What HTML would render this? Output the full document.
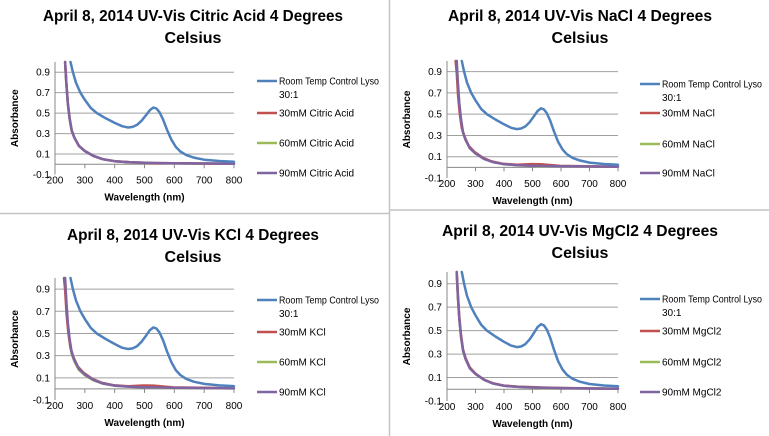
<!DOCTYPE html>
<html><head><meta charset="utf-8"><style>
html,body{margin:0;padding:0;background:#fff;width:769px;height:436px;overflow:hidden}
svg{display:block;font-family:"Liberation Sans",sans-serif}
</style></head><body>
<svg id="s" width="769" height="436" viewBox="0 0 769 436">
<rect width="769" height="436" fill="#fff"/>
<line x1="389.5" y1="0" x2="389.5" y2="436" stroke="#c4c4c4" stroke-width="1.5"/>
<line x1="0" y1="213.5" x2="389" y2="213.5" stroke="#c4c4c4" stroke-width="1.5"/>
<line x1="390" y1="210" x2="769" y2="210" stroke="#c4c4c4" stroke-width="1.5"/>
</svg>
<script>
var s=document.getElementById('s');var NS='http://www.w3.org/2000/svg';
function el(n,a,t){var e=document.createElementNS(NS,n);for(var k in a)e.setAttribute(k,a[k]);if(t!==undefined)e.textContent=t;s.appendChild(e);return e;}
var blue=[[252,1.0],[260,0.9],[270,0.8],[285,0.7],[300,0.63],[320,0.55],[340,0.5],[370,0.45],[400,0.405],[425,0.372],[445,0.36],[460,0.365],[475,0.385],[490,0.425],[505,0.48],[518,0.53],[530,0.555],[540,0.545],[550,0.51],[562,0.44],[575,0.34],[590,0.24],[605,0.17],[620,0.125],[640,0.09],[665,0.065],[700,0.045],[750,0.032],[800,0.025]];
var purp=[[234,1.0],[238,0.8],[243,0.6],[249,0.45],[256,0.33],[265,0.26],[280,0.18],[300,0.13],[330,0.08],[360,0.05],[400,0.03],[450,0.02],[500,0.015],[600,0.01],[800,0.005]];
function redOf(b,shift,bump){return purp.map(function(p){var w=p[0]-shift;var v=p[1];if(v<0.9)v=v*b+bump*Math.exp(-Math.pow((p[0]-530)/50,2));return[w,v];}).concat([[530,0.01+bump]]).sort(function(a,b){return a[0]-b[0]});}
function panel(P){
 var X=function(w){return P.x0+(w-200)/600*(P.x1-P.x0)};
 var Y=function(v){return P.yb+(v+0.1)/1.1*(P.yt-P.yb)};
 el('text',{x:P.cx,y:P.t1,'text-anchor':'middle','font-size':'16','font-weight':'bold',textLength:P.tl,lengthAdjust:'spacingAndGlyphs'},P.title);
 el('text',{x:P.cx,y:P.t2,'text-anchor':'middle','font-size':'16','font-weight':'bold'},'Celsius');
 [0.9,0.7,0.5,0.3,0.1,-0.1].forEach(function(v){
  if(v>-0.1)el('line',{x1:P.x0,x2:P.x1,y1:Y(v),y2:Y(v),stroke:'#a0a0a0','stroke-width':1});
  el('text',{x:P.x0-5,y:Y(v)+3.5,'text-anchor':'end','font-size':'10'},v==-0.1?'-0.1':String(v));
 });
 el('line',{x1:P.x0,x2:P.x1,y1:Y(0),y2:Y(0),stroke:'#888','stroke-width':1});
 el('line',{x1:P.x0,x2:P.x0,y1:Y(1.0),y2:Y(-0.1),stroke:'#888','stroke-width':1});
 for(var w=200;w<=800;w+=100){el('line',{x1:X(w),x2:X(w),y1:Y(0),y2:Y(0)+4,stroke:'#888'});
  el('text',{x:X(w),y:Y(-0.1)+9,'text-anchor':'middle','font-size':'10'},String(w));}
 el('text',{x:(P.x0+P.x1)/2,y:Y(-0.1)+26,'text-anchor':'middle','font-size':'10','font-weight':'bold'},'Wavelength (nm)');
 var ay=(Y(1)+Y(-0.1))/2;
 el('text',{x:P.x0-37,y:ay,'text-anchor':'middle','font-size':'10','font-weight':'bold',transform:'rotate(-90 '+(P.x0-37)+' '+ay+')'},'Absorbance');
 function path(d,c){var pts=d.filter(function(p){return p[1]<=1.05}).map(function(p){return X(p[0]).toFixed(1)+','+Y(Math.min(p[1],1.0)).toFixed(1)});
  el('polyline',{points:pts.join(' '),fill:'none',stroke:c,'stroke-width':2.5,'stroke-linejoin':'round','stroke-linecap':'round'});}
 path(P.green,'#9bbb59');path(P.red,'#c0504d');path(purp,'#8064a2');path(blue,'#4f81bd');
 var cols=['#4f81bd','#c0504d','#9bbb59','#8064a2'];
 var labs=['Room Temp Control Lyso',P.l1,P.l2,P.l3];
 P.ly.forEach(function(y,i){el('line',{x1:P.lx,x2:P.lx+20,y1:y,y2:y,stroke:cols[i],'stroke-width':2.5});
  var a={x:P.lx+22,y:y+3.5,'font-size':'10'};
  if(i==0){a.textLength=100;a.lengthAdjust='spacingAndGlyphs';}
  el('text',a,labs[i]);});
 el('text',{x:P.lx+22,y:P.ly[0]+17,'font-size':'10'},'30:1');
}
var std=redOf(1,0,0), hi=redOf(1.12,4,0.02);
panel({x0:55,x1:234,yt:62,yb:174.5,cx:193,t1:21,t2:43,tl:300,title:'April 8, 2014 UV-Vis Citric Acid 4 Degrees',lx:257,ly:[81,113,143,173],l1:'30mM Citric Acid',l2:'60mM Citric Acid',l3:'90mM Citric Acid',red:std,green:std});
panel({x0:447,x1:618,yt:61,yb:178,cx:580,t1:21,t2:43,tl:264,title:'April 8, 2014 UV-Vis NaCl 4 Degrees',lx:640,ly:[84,113,144,173],l1:'30mM NaCl',l2:'60mM NaCl',l3:'90mM NaCl',red:hi,green:std});
panel({x0:55,x1:234,yt:278,yb:400,cx:193,t1:240,t2:262,tl:252,title:'April 8, 2014 UV-Vis KCl 4 Degrees',lx:257,ly:[300,332,362,392],l1:'30mM KCl',l2:'60mM KCl',l3:'90mM KCl',red:hi,green:redOf(0.95,0,0)});
panel({x0:447,x1:618,yt:272,yb:401,cx:580,t1:236,t2:258,tl:276,title:'April 8, 2014 UV-Vis MgCl2 4 Degrees',lx:640,ly:[299,331,362,392],l1:'30mM MgCl2',l2:'60mM MgCl2',l3:'90mM MgCl2',red:redOf(1.03,0,0.005),green:std});
</script>
</body></html>
